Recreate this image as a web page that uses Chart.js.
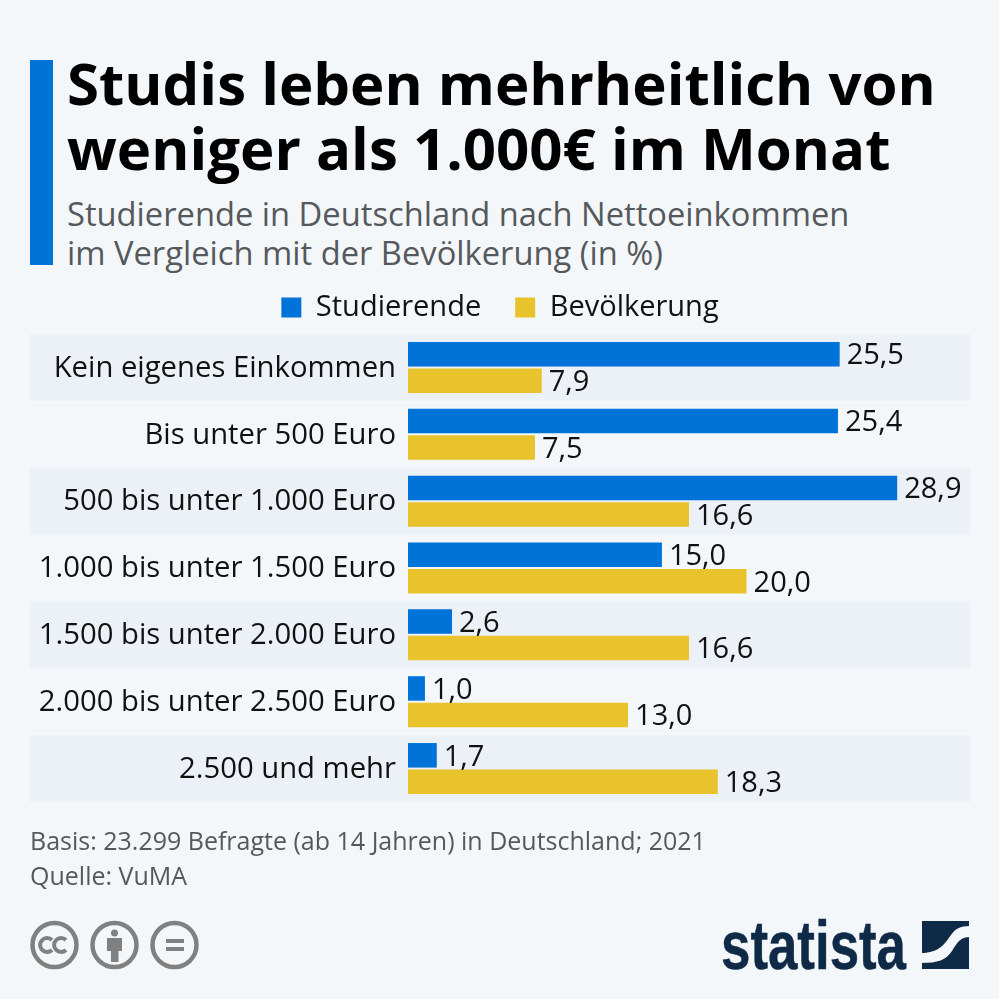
<!DOCTYPE html>
<html lang="de">
<head>
<meta charset="utf-8">
<title>Studis leben mehrheitlich von weniger als 1.000€ im Monat</title>
<script src="https://cdn.jsdelivr.net/npm/chart.js@4"></script>
<style>
  html, body { margin: 0; padding: 0; background: #f4f7fa; }
  #page { position: relative; width: 999px; height: 999px; overflow: hidden; font-family: "Open Sans", sans-serif; }
  #graph { position: absolute; left: 0; top: 0; }
  .txt { position: absolute; white-space: nowrap; }
  #accent { position: absolute; left: 30px; top: 60px; width: 23px; height: 205px; background: #0073d9; }
  #title { left: 67px; top: 50px; font-size: 58.2px; line-height: 65px; font-weight: 700; color: #000; }
  #subtitle { left: 67px; top: 194px; font-size: 32.7px; line-height: 39px; color: #55595c; }
  #source { left: 30px; top: 823px; font-size: 25px; line-height: 35px; color: #55595c; }
  #icons, #logo { position: absolute; }
  #icons { left: 0; top: 900px; }
  #logo { left: 700px; top: 900px; }
</style>
</head>
<body>
<div id="page">
  <div id="accent"></div>
  <div class="txt" id="title">Studis leben mehrheitlich von<br>weniger als 1.000€ im Monat</div>
  <div class="txt" id="subtitle">Studierende in Deutschland nach Nettoeinkommen<br>im Vergleich mit der Bevölkerung (in %)</div>
  <canvas id="graph" width="999" height="999"></canvas>
  <div class="txt" id="source">Basis: 23.299 Befragte (ab 14 Jahren) in Deutschland; 2021<br>Quelle: VuMA</div>
  <svg id="icons" width="210" height="90" fill="none" stroke="#808080" stroke-width="4.5">
    <circle cx="54.5" cy="45" r="22"/>
    <circle cx="114.5" cy="45" r="22"/>
    <circle cx="174.5" cy="45" r="22"/>
    <path d="M52 40a7 7 0 1 0 0 10M66 40a7 7 0 1 0 0 10" stroke-width="4"/>
    <g fill="#808080" stroke="none">
      <circle cx="114.5" cy="33" r="3.5"/>
      <rect x="107" y="38" width="15" height="13"/>
      <rect x="111" y="50" width="7.5" height="12"/>
      <rect x="166" y="39" width="18" height="4"/>
      <rect x="166" y="47" width="18" height="4"/>
    </g>
  </svg>
  <svg id="logo" width="290" height="90">
    <text x="21" y="69" font-family="Liberation Sans Narrow, Liberation Sans" font-weight="700" font-size="68" fill="#0f2a47" stroke="#0f2a47" stroke-width="0.5" textLength="185" lengthAdjust="spacingAndGlyphs">statista</text>
    <rect x="222" y="21" width="47" height="48" fill="#0f2a47"/>
    <path d="M221 53C240 53 245 43 251 35C255 29 260 26 270 26V37C260 37 257 43 252 51C246 60 238 63 221 63Z" fill="#f4f7fa"/>
  </svg>
</div>
<script>
const categories = [
  "Kein eigenes Einkommen",
  "Bis unter 500 Euro",
  "500 bis unter 1.000 Euro",
  "1.000 bis unter 1.500 Euro",
  "1.500 bis unter 2.000 Euro",
  "2.000 bis unter 2.500 Euro",
  "2.500 und mehr"
];
const studierende = [25.5, 25.4, 28.9, 15.0, 2.6, 1.0, 1.7];
const bevoelkerung = [7.9, 7.5, 16.6, 20.0, 16.6, 13.0, 18.3];
const axisMax = 33.2;

const fontFamily = '"Open Sans", sans-serif';

// alternating row stripes, drawn first so the tick labels stay on top
const rowBands = {
  id: "rowBands",
  beforeDraw(chart) {
    const { ctx, chartArea, scales } = chart;
    const h = chartArea.height / categories.length;
    ctx.save();
    ctx.fillStyle = "#ecf0f7";
    categories.forEach((c, i) => {
      if (i % 2) return;
      ctx.fillRect(30, scales.y.getPixelForValue(i) - h / 2, chartArea.right - 30, h);
    });
    ctx.restore();
  }
};

// value labels right of each bar, german decimal comma
const valueLabels = {
  id: "valueLabels",
  afterDatasetsDraw(chart) {
    const { ctx } = chart;
    ctx.save();
    ctx.font = "29px " + fontFamily;
    ctx.fillStyle = "#111";
    ctx.textBaseline = "middle";
    chart.data.datasets.forEach((ds, d) => {
      chart.getDatasetMeta(d).data.forEach((bar, i) => {
        ctx.fillText(ds.data[i].toFixed(1).replace(".", ","), bar.x + 7, bar.y + 2);
      });
    });
    ctx.restore();
  }
};

// legend needs wide gaps between items but only a short box above the rows
const legendHeight = {
  id: "legendHeight",
  beforeInit(chart) {
    const fit = chart.legend.fit;
    chart.legend.fit = function () {
      fit.call(this);
      this.height = 75;
    };
  }
};

new Chart(document.getElementById("graph"), {
  type: "bar",
  data: {
    labels: categories,
    datasets: [
      { label: "Studierende", data: studierende, backgroundColor: "#0073d9" },
      { label: "Bevölkerung", data: bevoelkerung, backgroundColor: "#e9c32b" }
    ]
  },
  plugins: [legendHeight, rowBands, valueLabels],
  options: {
    indexAxis: "y",
    responsive: false,
    animation: false,
    datasets: { bar: { categoryPercentage: 0.793, barPercentage: 0.925 } },
    layout: { padding: { left: 30, right: 29, top: 259, bottom: 197 } },
    scales: {
      x: { display: false, min: 0, max: axisMax },
      y: {
        grid: { display: false },
        border: { display: false },
        afterFit(scale) { scale.width = 378; },
        ticks: { padding: 4, labelOffset: 1, autoSkip: false, color: "#111", font: { family: fontFamily, size: 29.25 } }
      }
    },
    plugins: {
      tooltip: { enabled: false },
      legend: {
        position: "top",
        onClick: null,
        labels: {
          boxWidth: 20,
          boxHeight: 20,
          padding: 34,
          color: "#111",
          font: { family: fontFamily, size: 29 }
        }
      }
    }
  }
});
</script>
</body>
</html>
